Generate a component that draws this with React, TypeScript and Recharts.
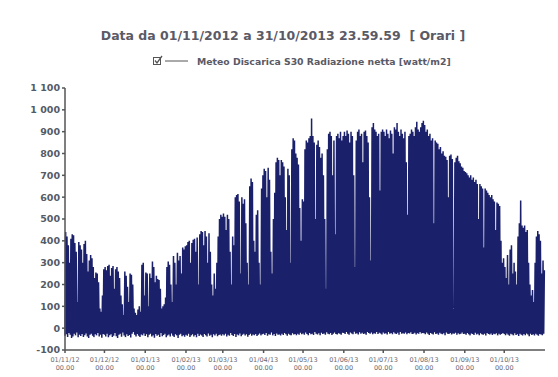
import { LineChart, Line, XAxis, YAxis } from 'recharts'

// daily peak (midday) and night minimum of net radiation, watt/m2
const novPeak = [440, 420, 380, 300, 410, 430, 425, 390, 350, 120, 395, 380, 360, 300, 385, 400, 340, 260, 310, 335, 320, 280, 230, 255, 250, 210, 90, 75, 150, 270]
const decPeak = [280, 265, 285, 290, 240, 275, 285, 180, 270, 280, 260, 230, 150, 110, 60, 260, 240, 190, 120, 250, 245, 200, 90, 70, 60, 85, 100, 75, 290, 300, 150]
const janPeak = [255, 250, 100, 250, 230, 305, 280, 210, 240, 225, 220, 180, 90, 100, 110, 140, 280, 305, 290, 200, 120, 330, 300, 200, 345, 310, 330, 250, 370, 360, 375]
const febPeak = [380, 395, 400, 300, 390, 405, 410, 350, 415, 200, 430, 445, 440, 380, 445, 420, 300, 435, 350, 200, 150, 250, 180, 300, 420, 500, 520, 510]
const marPeak = [525, 510, 450, 520, 500, 350, 200, 420, 380, 600, 610, 615, 580, 250, 600, 570, 590, 480, 300, 200, 650, 685, 670, 400, 350, 520, 540, 300, 200, 640, 700]
const aprPeak = [730, 720, 600, 735, 680, 350, 250, 500, 620, 760, 780, 770, 700, 770, 760, 740, 600, 450, 730, 700, 300, 820, 870, 860, 800, 780, 750, 550, 400, 590]
const mayPeak = [580, 820, 860, 850, 870, 880, 960, 880, 850, 500, 840, 860, 830, 780, 800, 700, 500, 180, 820, 890, 900, 880, 700, 860, 430, 880, 890, 870, 900, 860, 880]
const junPeak = [900, 880, 905, 890, 850, 900, 880, 700, 280, 860, 900, 910, 880, 890, 760, 900, 905, 880, 850, 600, 310, 920, 940, 910, 900, 880, 890, 630, 900, 910]
const julPeak = [900, 880, 910, 890, 870, 905, 890, 800, 920, 910, 940, 900, 880, 910, 890, 870, 900, 760, 520, 880, 890, 910, 900, 880, 920, 945, 910, 900, 920, 940, 950]
const augPeak = [930, 900, 910, 880, 890, 860, 870, 480, 860, 850, 845, 820, 830, 800, 810, 790, 785, 770, 600, 790, 795, 775, 60, 760, 780, 790, 765, 755, 740, 735, 720]
const sepPeak = [715, 710, 700, 690, 700, 680, 690, 670, 680, 660, 500, 660, 650, 640, 370, 640, 630, 620, 610, 600, 610, 590, 580, 450, 575, 570, 560, 400, 300, 320]
const octPeak = [280, 230, 335, 200, 360, 380, 250, 300, 260, 200, 420, 480, 585, 470, 460, 470, 440, 450, 300, 200, 150, 175, 120, 300, 420, 445, 430, 400, 250, 310, 265]

const novLow = [-35, -28, -40, -22, -30, -45, -38, -25, -33, -20, -42, -30, -36, -27, -40, -32, -24, -38, -45, -30, -26, -35, -41, -28, -33, -22, -38, -30, -44, -27]
const decLow = [-30, -38, -25, -42, -33, -28, -40, -35, -22, -37, -45, -30, -26, -39, -20, -34, -41, -28, -36, -31, -43, -25, -18, -30, -38, -27, -35, -40, -29, -33, -24]
const janLow = [-36, -28, -41, -30, -25, -38, -33, -44, -27, -35, -30, -40, -22, -37, -31, -26, -42, -34, -29, -38, -24, -35, -40, -28, -33, -45, -30, -26, -37, -32, -39]
const febLow = [-30, -35, -26, -40, -33, -28, -38, -31, -42, -25, -36, -29, -34, -40, -27, -32, -38, -24, -35, -30, -41, -28, -33, -26, -37, -31, -29, -35]
const marLow = [-28, -33, -25, -38, -30, -35, -22, -31, -36, -27, -40, -29, -33, -24, -37, -30, -26, -34, -28, -39, -31, -25, -35, -29, -32, -27, -36, -30, -24, -33, -28]
const aprLow = [-26, -31, -22, -35, -28, -30, -20, -33, -27, -36, -24, -30, -29, -34, -25, -31, -22, -28, -35, -26, -30, -33, -23, -29, -27, -32, -25, -30, -21, -28]
const mayLow = [-24, -30, -20, -27, -33, -22, -28, -25, -31, -18, -26, -29, -23, -32, -21, -27, -24, -30, -19, -26, -28, -22, -31, -25, -20, -27, -29, -23, -26, -30, -21]
const junLow = [-22, -27, -18, -25, -30, -20, -24, -28, -16, -26, -23, -29, -19, -25, -21, -27, -24, -30, -18, -22, -26, -20, -28, -23, -25, -17, -27, -21, -24, -29]
const julLow = [-20, -26, -23, -29, -17, -25, -22, -28, -19, -24, -27, -21, -30, -18, -25, -23, -26, -20, -28, -22, -24, -19, -27, -25, -21, -29, -23, -26, -18, -24, -22]
const augLow = [-23, -28, -20, -26, -31, -22, -25, -29, -19, -27, -24, -30, -21, -26, -28, -23, -32, -20, -25, -27, -22, -29, -24, -26, -21, -30, -23, -28, -25, -20, -27]
const sepLow = [-25, -30, -22, -28, -33, -24, -27, -31, -21, -29, -26, -32, -23, -28, -30, -25, -34, -22, -27, -29, -24, -31, -26, -28, -23, -33, -25, -30, -27, -22]
const octLow = [-27, -32, -24, -30, -35, -26, -29, -33, -23, -31, -28, -36, -25, -30, -34, -27, -32, -24, -29, -37, -26, -31, -28, -33, -25, -30, -35, -27, -29, -32, -26]

const tickLabels = ['01/11/12', '01/12/12', '01/01/13', '01/02/13', '01/03/13', '01/04/13', '01/05/13', '01/06/13', '01/07/13', '01/08/13', '01/09/13', '01/10/13']
const yTicks = [-100, 0, 100, 200, 300, 400, 500, 600, 700, 800, 900, 1000, 1100]

const months = [
  [novPeak, novLow], [decPeak, decLow], [janPeak, janLow], [febPeak, febLow],
  [marPeak, marLow], [aprPeak, aprLow], [mayPeak, mayLow], [junPeak, junLow],
  [julPeak, julLow], [augPeak, augLow], [sepPeak, sepLow], [octPeak, octLow],
]

const monthStarts: number[] = []
const data: { t: number; v: number }[] = []
let day = 0
months.forEach(([peaks, lows]) => {
  monthStarts.push(day)
  peaks.forEach((p, i) => {
    data.push({ t: day + i, v: lows[i] })
    data.push({ t: day + i + 0.5, v: p })
  })
  day += peaks.length
})

const fmtY = (v: number) => (v >= 1000 ? `${Math.floor(v / 1000)} ${String(v % 1000).padStart(3, '0')}` : String(v))

const DateTick = (props: any) => {
  const { x, y, payload } = props
  const i = monthStarts.indexOf(payload.value)
  return (
    <g transform={`translate(${x},${y})`}>
      <text textAnchor="middle" fontSize={6.5} fill="#6a6a74" fontFamily="DejaVu Sans">
        <tspan x={0} dy={7}>{tickLabels[i]}</tspan>
        <tspan x={0} dy={8}>00.00</tspan>
      </text>
    </g>
  )
}

export default function App() {
  return (
    <div style={{ position: 'absolute', left: 0, top: 0, width: 558, height: 377, background: '#fff', fontFamily: 'DejaVu Sans' }}>
      <div style={{ position: 'absolute', left: 0, width: 566, top: 28, textAlign: 'center', fontSize: 12.5, fontWeight: 'bold', color: '#5a5a66' }}>
        Data da 01/11/2012 a 31/10/2013 23.59.59&nbsp; [ Orari ]
      </div>
      <div style={{ position: 'absolute', left: 152, top: 55, display: 'flex', alignItems: 'center', fontSize: 9.3, fontWeight: 'bold', color: '#5a5a66' }}>
        <svg width={40} height={12}>
          <rect x={1.5} y={2.5} width={7} height={7} fill="none" stroke="#555" strokeWidth={1} />
          <path d="M3 5.5 L5 8 L10 1" fill="none" stroke="#555" strokeWidth={1.3} />
          <line x1={13} y1={6} x2={36} y2={6} stroke="#555" strokeWidth={1} />
        </svg>
        <span style={{ marginLeft: 5 }}>Meteo Discarica S30 Radiazione netta [watt/m2]</span>
      </div>
      <LineChart width={558} height={377} data={data} margin={{ top: 88, right: 13, bottom: 5, left: 0 }}>
        <XAxis
          type="number"
          dataKey="t"
          domain={[0, day]}
          ticks={monthStarts}
          tick={<DateTick />}
          interval={0}
          height={22}
          tickSize={3}
          stroke="#555"
          strokeWidth={1.5}
        />
        <YAxis
          type="number"
          domain={[-100, 1100]}
          ticks={yTicks}
          tickFormatter={fmtY}
          interval={0}
          width={65}
          tickSize={3}
          stroke="#555"
          strokeWidth={1.5}
          tick={{ fontSize: 9.5, fontWeight: 'bold', fill: '#555b66', fontFamily: 'DejaVu Sans' }}
        />
        <Line type="linear" dataKey="v" stroke="#1a206a" strokeWidth={1.5} dot={false} isAnimationActive={false} />
      </LineChart>
    </div>
  )
}
